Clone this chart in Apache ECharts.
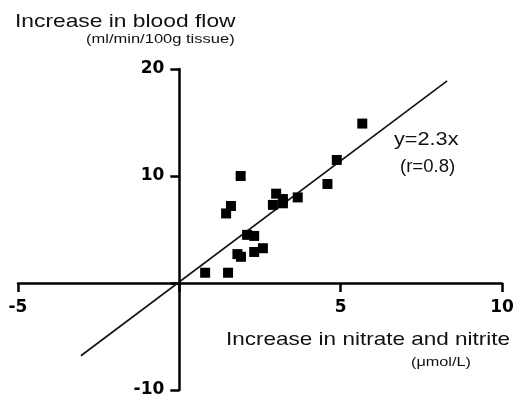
<!DOCTYPE html>
<html>
<head>
<meta charset="utf-8">
<script src="https://cdn.jsdelivr.net/npm/echarts@6/dist/echarts.min.js"></script>
<style>
  html, body { margin: 0; padding: 0; background: #fff; }
  #chart { width: 515px; height: 398px; }
</style>
</head>
<body>
<div id="chart"></div>
<script>
// nitrate + nitrite increase (umol/L) vs blood flow increase (ml/min/100g tissue)
var pointsX = [0.80, 1.51, 5.67, 4.88, 4.59, 3.67, 3.00, 3.21, 2.90, 3.21, 1.90, 1.60, 1.45, 2.10, 2.32, 1.80, 1.91, 2.32, 2.59];
var pointsY = [0.96, 0.96, 14.9, 11.5, 9.25, 8.0, 8.35, 7.85, 7.3, 7.45, 10.0, 7.2, 6.5, 4.5, 4.4, 2.7, 2.45, 2.9, 3.25];

// fitted line y = 2.3x, ends as drawn
var fitX = [-3.05, 8.3];
var fitY = [-6.8, 18.9];

var xTicks = [-5, 0, 5, 10];
var yTicks = [-10, 0, 10, 20];

var chart = echarts.init(document.getElementById('chart'));

var scatterData = pointsX.map(function (x, i) { return [x, pointsY[i]]; });
var fitData = fitX.map(function (x, i) { return [x, fitY[i]]; });

var textFont = '"Liberation Sans", Arial, sans-serif';

function label(text, x, y, size, sx) {
  return {
    type: 'text',
    x: x,
    y: y,
    scaleX: sx,
    style: {
      text: text,
      x: 0,
      y: 0,
      fill: '#111',
      font: size + 'px ' + textFont,
      align: 'left',
      verticalAlign: 'middle'
    }
  };
}

function tickLabel(margin) {
  return {
    margin: margin,
    color: '#000',
    fontFamily: '"DejaVu Sans", sans-serif',
    fontWeight: 'bold',
    fontSize: 17,
    formatter: function (v) { return v === 0 ? '' : String(v); }
  };
}

var option = {
  animation: false,
  grid: { left: 18, right: 13, top: 69, bottom: 8, containLabel: false, outerBoundsMode: 'none' },
  xAxis: {
    type: 'value',
    min: xTicks[0],
    max: xTicks[xTicks.length - 1],
    interval: 5,
    offset: 0,
    axisLine: { onZero: false, lineStyle: { color: '#000', width: 2.5 } },
    axisTick: { show: true, inside: false, length: 9, lineStyle: { color: '#000', width: 2.5 } },
    axisLabel: tickLabel(16),
    splitLine: { show: false }
  },
  yAxis: {
    type: 'value',
    min: yTicks[0],
    max: yTicks[yTicks.length - 1],
    interval: 10,
    offset: 0,
    axisLine: { onZero: false, lineStyle: { color: '#000', width: 2.5 } },
    axisTick: { show: true, inside: false, length: 9, lineStyle: { color: '#000', width: 2.5 } },
    axisLabel: tickLabel(15),
    splitLine: { show: false }
  },
  series: [
    {
      type: 'line',
      data: fitData,
      showSymbol: false,
      symbol: 'none',
      lineStyle: { color: '#111', width: 1.6 },
      z: 3
    },
    {
      type: 'scatter',
      data: scatterData,
      symbol: 'rect',
      symbolSize: 10,
      itemStyle: { color: '#000', opacity: 1 },
      z: 4
    }
  ],
  graphic: [
    label('Increase in blood flow', 15, 21.5, 19, 1.2),
    label('(ml/min/100g tissue)', 86, 39.5, 13, 1.27),
    label('y=2.3x', 394, 140.5, 17.5, 1.24),
    label('(r=0.8)', 400, 167, 17.5, 1.06),
    label('Increase in nitrate and nitrite', 226, 340, 19, 1.185),
    label('(\u03bcmol/L)', 411, 362, 13, 1.25)
  ]
};

chart.setOption(option);

// move both axes so they cross at the origin, labels included
var origin = chart.convertToPixel({ gridIndex: 0 }, [0, 0]);
var corner = chart.convertToPixel({ gridIndex: 0 }, [xTicks[0], yTicks[0]]);
chart.setOption({
  xAxis: { offset: -(corner[1] - origin[1]) },
  yAxis: { offset: -(origin[0] - corner[0]) }
});
</script>
</body>
</html>
